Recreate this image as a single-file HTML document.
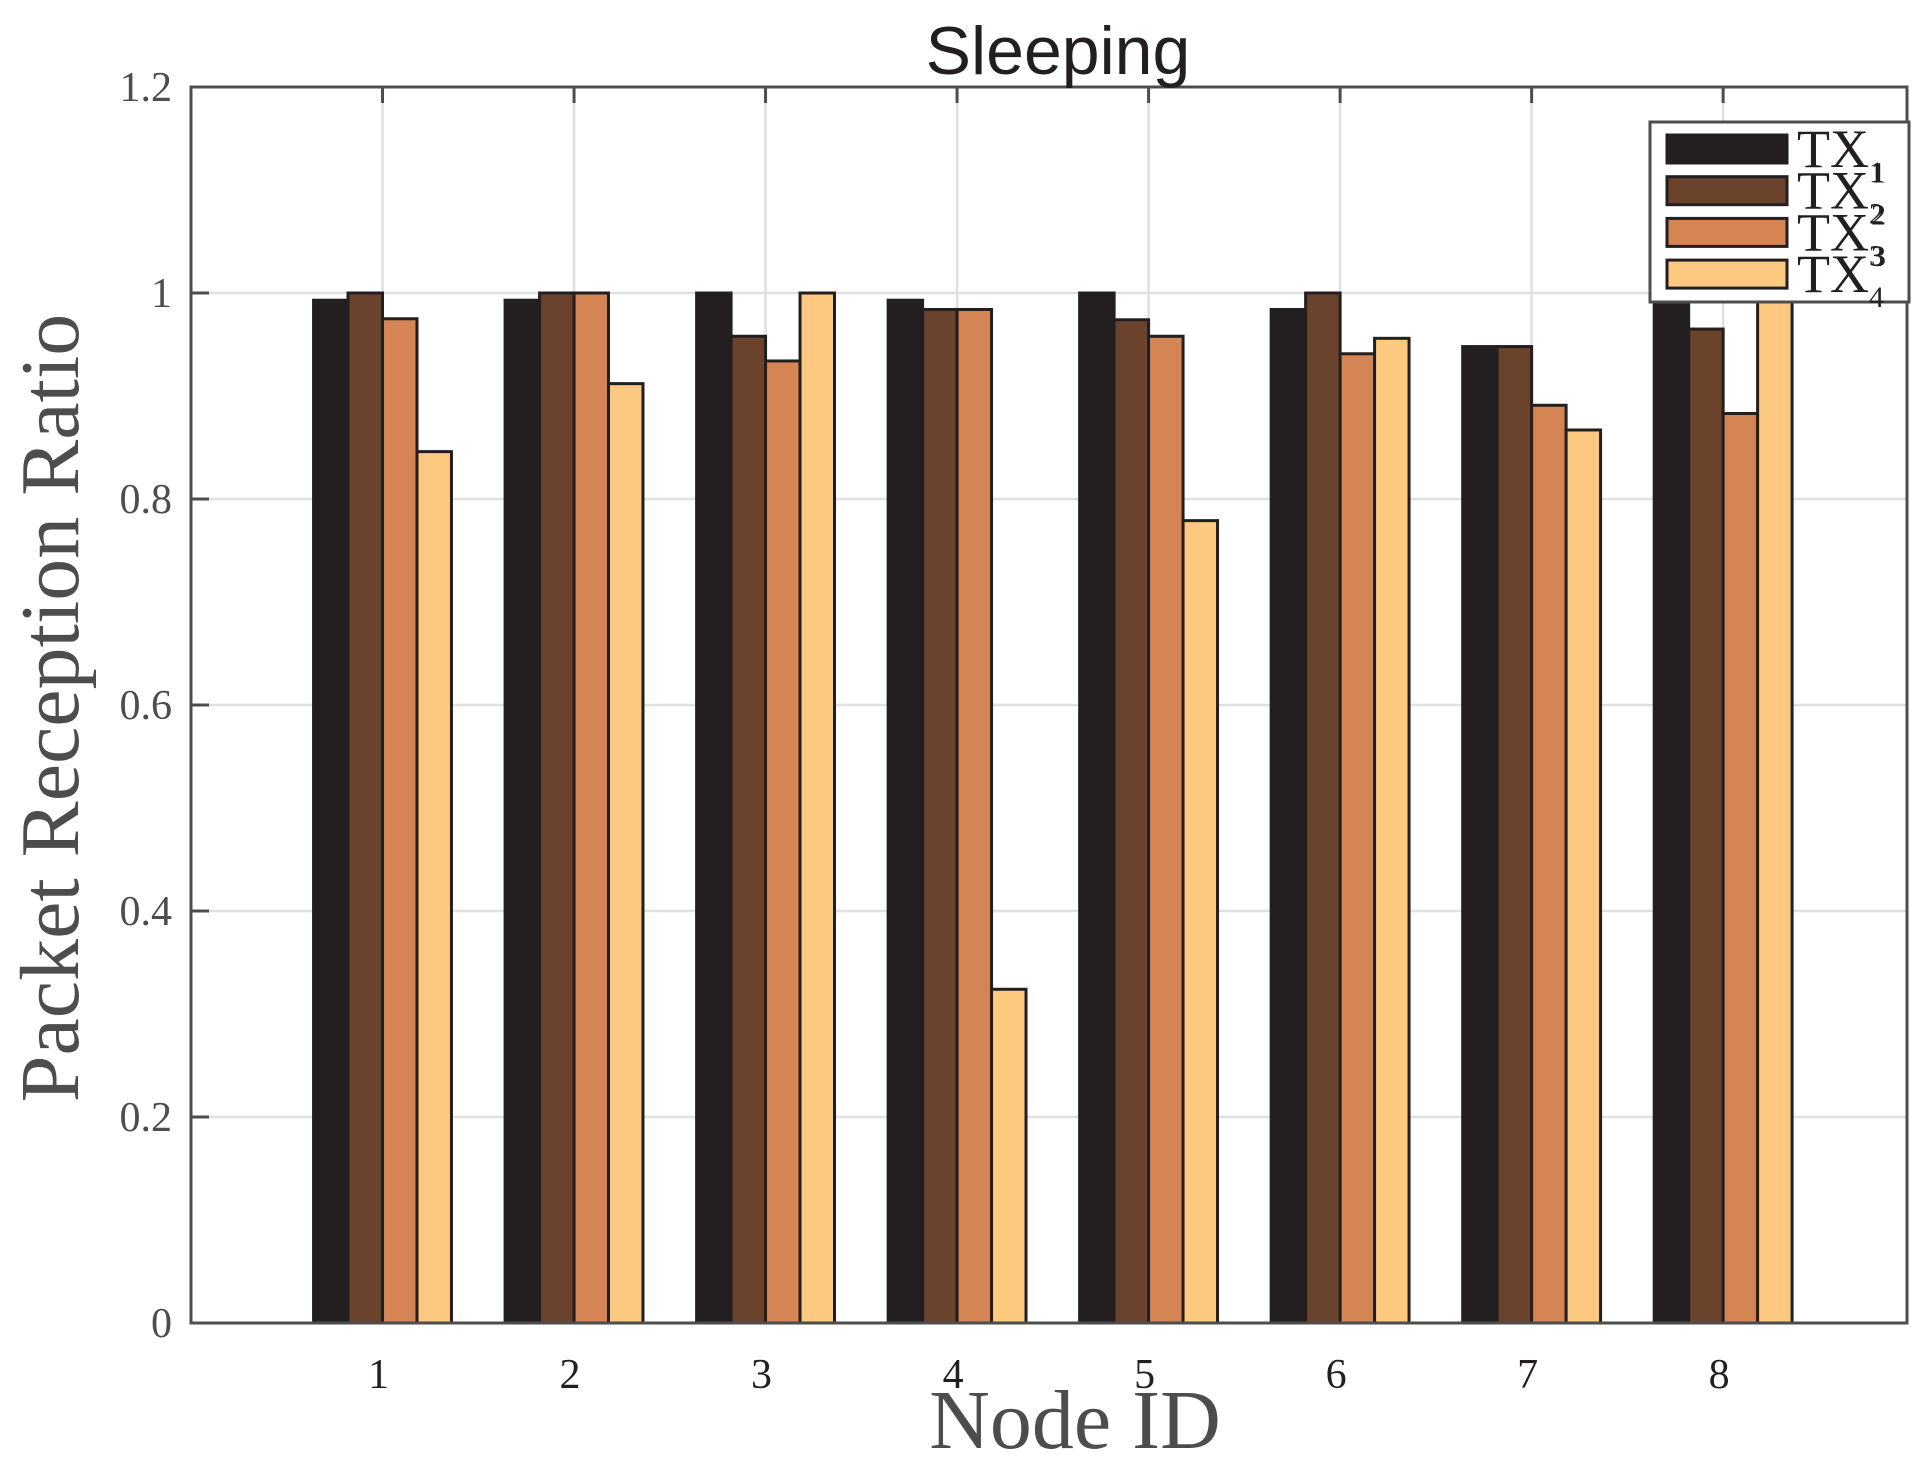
<!DOCTYPE html>
<html><head><meta charset="utf-8"><style>
body{margin:0;background:#fff}
svg{display:block}
text{font-family:"Liberation Serif",serif}
</style></head><body>
<svg id="chart" width="1932" height="1468" viewBox="0 0 1932 1468" xmlns="http://www.w3.org/2000/svg">
<g id="grid"></g>
<g id="bars"></g>
<rect x="191" y="87" width="1716" height="1236" fill="none" stroke="#4d4d4d" stroke-width="3"/>
<g id="ticks"></g>
<text x="1058" y="74" text-anchor="middle" font-size="68" fill="#231f20" style="font-family:'Liberation Sans',sans-serif">Sleeping</text>
<text transform="translate(78,708) rotate(-90)" text-anchor="middle" font-size="84" fill="#4d4d4d">Packet Reception Ratio</text>
<text x="1075" y="1448" text-anchor="middle" font-size="84" fill="#4d4d4d">Node ID</text>
<g>
<rect x="1650" y="122" width="259" height="180" fill="#fff" stroke="#4d4d4d" stroke-width="3"/>
<g id="legend-entries"></g>
</g>
</svg>
<script>
const categories=["1","2","3","4","5","6","7","8"];
const tx1=[0.993,0.993,1.0,0.993,1.0,0.984,0.948,0.993];
const tx2=[1.0,1.0,0.958,0.984,0.974,1.0,0.948,0.965];
const tx3=[0.975,1.0,0.934,0.984,0.958,0.941,0.891,0.883];
const tx4=[0.846,0.912,1.0,0.324,0.779,0.956,0.867,1.0];
const yTicks=[0,0.2,0.4,0.6,0.8,1,1.2];
const yTickLabels=["0","0.2","0.4","0.6","0.8","1","1.2"];
const seriesNames=["TX1","TX2","TX3","TX4"];
const colors=["#231f20","#6b422b","#d58553","#fdc880"];
const NS="http://www.w3.org/2000/svg";
const L=191,R=1907,T=87,B=1323;
const xs=v=>L+(v/8.96)*(R-L);
const ys=v=>B-(v/1.2)*(B-T);
function mk(tag,attrs,parent){const e=document.createElementNS(NS,tag);for(const k in attrs)e.setAttribute(k,attrs[k]);parent.appendChild(e);return e;}
const grid=document.getElementById('grid'),bars=document.getElementById('bars'),ticks=document.getElementById('ticks');
yTicks.forEach((t,i)=>{
  const g=mk('line',{x1:L,x2:R,y1:ys(t),y2:ys(t),stroke:'#e0e0e0','stroke-width':2.5},grid);
  
  
  const tk=mk('line',{x1:L,x2:L+18,y1:ys(t),y2:ys(t),stroke:'#4d4d4d','stroke-width':3},ticks);
  
  
  const tl=mk('text',{x:172,y:ys(t)+14,'text-anchor':'end','font-size':42,fill:'#4d4d4d'},ticks);
  tl.textContent=yTickLabels[i];
  
  
});
categories.forEach((c,i)=>{
  const x=xs(i+1);
  const g=mk('line',{x1:x,x2:x,y1:T,y2:B,stroke:'#e0e0e0','stroke-width':2.5},grid);
  
  
  const tk=mk('line',{x1:x,x2:x,y1:T,y2:T+16,stroke:'#4d4d4d','stroke-width':3},ticks);
  
  
  const tl=mk('text',{x:x-4,y:1388,'text-anchor':'middle','font-size':42,fill:'#231f20'},ticks);
  tl.textContent=c;
  
  
});
const series=[tx1,tx2,tx3,tx4];
const offs=[-0.27,-0.09,0.09,0.27],bw=0.18;
series.forEach((s,si)=>{
  s.forEach((v,i)=>{
    const x0=xs(i+1+offs[si]-bw/2),x1=xs(i+1+offs[si]+bw/2);
    const r=mk('rect',{x:x0,y:ys(v),width:x1-x0,height:ys(0)-ys(v),fill:colors[si],stroke:'#231f20','stroke-width':3},bars);
    
    
  });
});
const le=document.getElementById('legend-entries');
const sups=["","1","2","3"];
seriesNames.forEach((n,i)=>{
  const cy=149+i*41.7;
  const r=mk('rect',{x:1667,y:cy-14,width:120,height:28,fill:colors[i],stroke:'#231f20','stroke-width':3},le);
  
  
  const t=mk('text',{x:1797,y:cy+18,'font-size':54,fill:'#231f20'},le);
  t.textContent='TX';
  
  
  const sb=mk('text',{x:1869,y:cy+33,'font-size':30,fill:'#231f20'},le);
  sb.textContent=String(i+1);
  
  
  if(sups[i]){
    const sp=mk('text',{x:1871,y:cy-8,'font-size':30,fill:'#231f20'},le);
    sp.textContent=sups[i];
    
    
  }
});
</script>
</body></html>
